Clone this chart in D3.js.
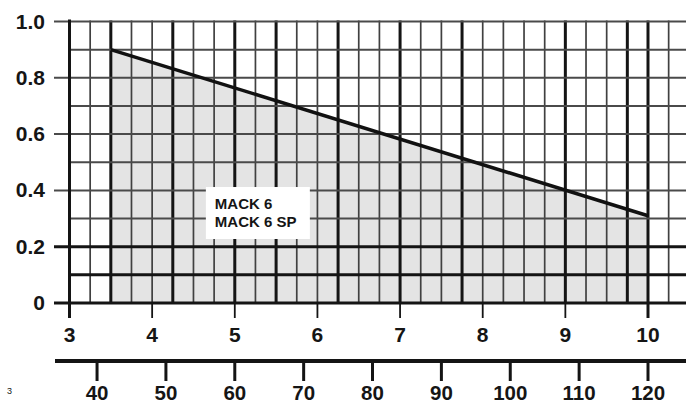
<!DOCTYPE html>
<html>
<head>
<meta charset="utf-8">
<script src="https://cdn.jsdelivr.net/npm/d3@7"></script>
<style>
  body { margin: 0; background: #fff; }
  text { font-family: "Liberation Sans", Arial, sans-serif; font-weight: bold; fill: #151515; }
</style>
</head>
<body>
<div id="chart"></div>
<script>
// flow in l/s (top axis) vs pressure drop (bar)
var flowLs = [3.5, 10];
var dropBar = [0.9, 0.31];
var yTicks = [0, 0.2, 0.4, 0.6, 0.8, 1.0];
var xTicks = [3, 4, 5, 6, 7, 8, 9, 10];
var flowM3hTicks = [40, 50, 60, 70, 80, 90, 100, 110, 120];
var boxLines = ["MACK 6", "MACK 6 SP"];
var heavyX = [3, 3.5, 4.25, 5, 5.5, 6.25, 7, 7.75, 9, 9.75, 10]; // darker grid lines in the scan

var w = 686, h = 405;
var svg = d3.select("#chart").append("svg")
    .attr("width", w)
    .attr("height", h);

var x = d3.scaleLinear().domain([3, 10]).range([69.5, 648]);
var y = d3.scaleLinear().domain([0, 1]).range([303, 21.5]);
// second axis is the same flow in m3/h (12x the top one)
var x2 = d3.scaleLinear().domain([36, 120]).range([69.5, 648]);

// filled area under the curve
var pts = flowLs.map((f, i) => ({ f: f, p: dropBar[i] }));
svg.append("path")
    .datum(pts)
    .attr("fill", "#e4e4e4")
    .attr("d", d3.area().x(d => x(d.f)).y0(y(0)).y1(d => y(d.p)));

// grid - vertical every 0.25
var vLines = d3.range(3, 10.26, 0.25);
svg.selectAll(".vgrid")
    .data(vLines)
    .enter()
    .append("line")
    .attr("x1", d => x(d)).attr("x2", d => x(d))
    .attr("y1", y(1) - 1).attr("y2", y(0))
    .attr("stroke", d => heavyX.some(v => Math.abs(v - d) < 1e-6) ? "#141414" : "#404040")
    .attr("stroke-width", d => heavyX.some(v => Math.abs(v - d) < 1e-6) ? 3 : 1.7);

// grid - horizontal every 0.1
var hLines = d3.range(0, 1.01, 0.1);
svg.selectAll(".hgrid")
    .data(hLines)
    .enter()
    .append("line")
    .attr("x1", d => yTicks.some(t => Math.abs(t - d) < 1e-6) ? 54 : x(3))
    .attr("x2", w)
    .attr("y1", d => y(d)).attr("y2", d => y(d))
    .attr("stroke", d => d < 0.25 ? "#141414" : "#4a4a4a")
    .attr("stroke-width", d => d < 0.25 ? 3 : 2);

// y axis line
svg.append("line")
    .attr("x1", x(3)).attr("x2", x(3))
    .attr("y1", y(1) - 2).attr("y2", 318)
    .attr("stroke", "#141414").attr("stroke-width", 3);

// curve
svg.append("path")
    .datum(pts)
    .attr("fill", "none")
    .attr("stroke", "#111")
    .attr("stroke-width", 3.5)
    .attr("d", d3.line().x(d => x(d.f)).y(d => y(d.p)));

// y labels
svg.selectAll(".ylab")
    .data(yTicks)
    .enter()
    .append("text")
    .attr("x", 45)
    .attr("y", d => y(d) + 7)
    .attr("text-anchor", "end")
    .style("font-size", "21px")
    .text(d => d === 0 ? "0" : d.toFixed(1));

// top x ticks + labels
svg.selectAll(".xtick")
    .data(xTicks)
    .enter()
    .append("line")
    .attr("x1", d => x(d)).attr("x2", d => x(d))
    .attr("y1", y(0)).attr("y2", 318)
    .attr("stroke", "#141414")
    .attr("stroke-width", d => (d === 3 || d === 10) ? 3 : 1.8);

svg.selectAll(".xlab")
    .data(xTicks)
    .enter()
    .append("text")
    .attr("x", d => x(d))
    .attr("y", 342)
    .attr("text-anchor", "middle")
    .style("font-size", "21px")
    .text(d => d);

// second axis (m3/h)
svg.append("line")
    .attr("x1", 55).attr("x2", w)
    .attr("y1", 361).attr("y2", 361)
    .attr("stroke", "#141414").attr("stroke-width", 4);

svg.selectAll(".x2tick")
    .data(flowM3hTicks)
    .enter()
    .append("line")
    .attr("x1", d => x2(d)).attr("x2", d => x2(d))
    .attr("y1", 361).attr("y2", 381)
    .attr("stroke", "#141414").attr("stroke-width", 3);

svg.selectAll(".x2lab")
    .data(flowM3hTicks)
    .enter()
    .append("text")
    .attr("x", d => x2(d))
    .attr("y", 400)
    .attr("text-anchor", "middle")
    .style("font-size", "20.5px")
    .text(d => d);

svg.append("text")
    .attr("x", 7).attr("y", 394)
    .style("font-size", "9px")
    .style("font-weight", "normal")
    .text("3");

// label box
var bx = x(4.65), by = y(0.412);
svg.append("rect")
    .attr("x", bx).attr("y", by)
    .attr("width", 104).attr("height", 52)
    .attr("fill", "#fff");

svg.selectAll(".boxlab")
    .data(boxLines)
    .enter()
    .append("text")
    .attr("x", bx + 9)
    .attr("y", (d, i) => by + 22 + i * 18)
    .style("font-size", "15px")
    .text(d => d);
</script>
</body>
</html>
